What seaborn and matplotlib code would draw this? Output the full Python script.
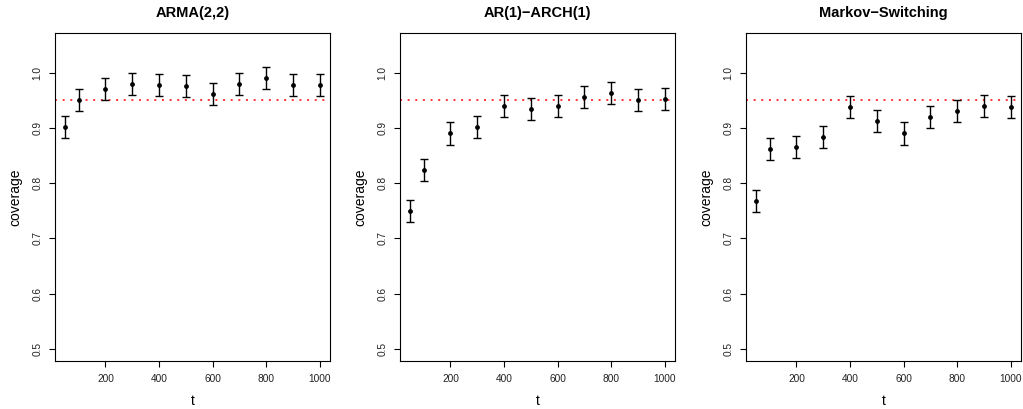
import numpy as np
import pandas as pd
import matplotlib
matplotlib.use("Agg")
import matplotlib.pyplot as plt
import seaborn as sns

# ---- data ----
t_values = [50, 100, 200, 300, 400, 500, 600, 700, 800, 900, 1000]
titles = ["ARMA(2,2)", "AR(1)\u2212ARCH(1)", "Markov\u2212Switching"]
cov_arma = [0.902, 0.950, 0.970, 0.980, 0.978, 0.976, 0.962, 0.980, 0.990, 0.978, 0.978]
cov_arch = [0.750, 0.824, 0.890, 0.902, 0.940, 0.934, 0.940, 0.956, 0.964, 0.950, 0.952]
cov_ms = [0.768, 0.862, 0.866, 0.884, 0.938, 0.912, 0.890, 0.920, 0.930, 0.940, 0.938]
half_width = [0.02] * 11
nominal = 0.95
y_ticks = [0.5, 0.6, 0.7, 0.8, 0.9, 1.0]
x_ticks = [200, 400, 600, 800, 1000]

sns.set_theme(style="ticks", rc={"text.color": "black", "axes.labelcolor": "black",
                                 "xtick.color": "black", "ytick.color": "black",
                                 "axes.edgecolor": "black"})
plt.rcParams["font.family"] = ["Liberation Sans", "DejaVu Sans"]

W, H = 1023, 409
fig = plt.figure(figsize=(W / 100, H / 100), dpi=100)
lefts = [55, 400, 746]
series = [cov_arma, cov_arch, cov_ms]

for left, title, cov in zip(lefts, titles, series):
    ax = fig.add_axes([left / W, (H - 361) / H, 275 / W, 328 / H])
    df = pd.DataFrame({"t": t_values, "coverage": cov, "hw": half_width})
    ax.errorbar(df["t"], df["coverage"], yerr=df["hw"], fmt="none",
                ecolor="black", elinewidth=1.0, capsize=3.2, capthick=1.0, zorder=2)
    sns.scatterplot(data=df, x="t", y="coverage", ax=ax, color="black",
                    s=12, edgecolor="black", linewidth=0, zorder=3)
    ax.axhline(nominal, color="#ff0000", linestyle=(0, (1.3, 3.7)), linewidth=1.1, zorder=1)
    rng_x = max(t_values) - min(t_values)
    ax.set_xlim(min(t_values) - 0.04 * rng_x, max(t_values) + 0.04 * rng_x)
    ax.set_ylim(0.5 - 0.04 * 0.55, 1.05 + 0.04 * 0.55)
    ax.set_xticks(x_ticks)
    ax.set_yticks(y_ticks)
    ax.set_yticklabels([f"{v:.1f}" for v in y_ticks])
    ax.tick_params(axis="both", length=4.5, width=0.8, labelsize=7.3, colors="black",
                   labelcolor="#222222")
    ax.tick_params(axis="x", pad=4.5)
    ax.tick_params(axis="y", pad=4.5, labelrotation=90)
    for lab in ax.get_yticklabels():
        lab.set_verticalalignment("center")
    for sp in ax.spines.values():
        sp.set_visible(True)
        sp.set_linewidth(0.8)
        sp.set_color("black")
    ax.set_title(title, fontsize=10.5, fontweight="bold", pad=11.5, color="black")
    ax.set_xlabel("t", fontsize=10)
    ax.set_ylabel("coverage", fontsize=10)
    ax.xaxis.set_label_coords(0.5, -0.10)
    ax.yaxis.set_label_coords(-0.12, 0.5)

fig.savefig("out.png", dpi=100)
